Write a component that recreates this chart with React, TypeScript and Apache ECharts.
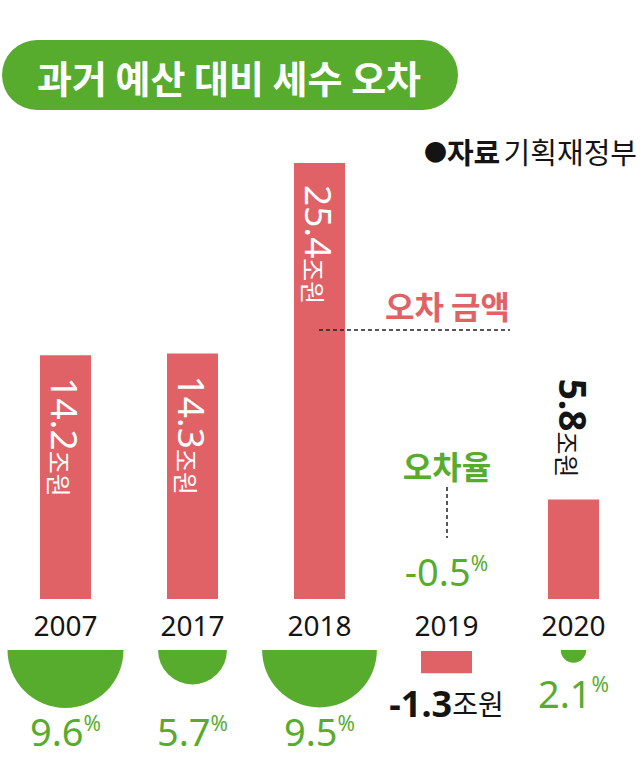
import React, { useEffect, useRef } from 'react';
import * as echarts from 'echarts';

// ---- data ----
const years = ['2007', '2017', '2018', '2019', '2020'];
const errorAmounts = [14.2, 14.3, 25.4, -1.3, 5.8]; // 조원
const errorRates = [9.6, 5.7, 9.5, -0.5, 2.1]; // %
const titleText = '과거 예산 대비 세수 오차';
const sourceMark = '●';
const sourceLabel = '자료';
const sourceName = '기획재정부';
const amountLegend = '오차 금액';
const rateLegend = '오차율';
const unitLabel = '조원';

// ---- styles ----
const RED = '#e06266';
const GREEN = '#57ac2e';
const INK = '#141414';
const NUM_FONT = "'Noto Sans', 'Noto Sans CJK KR', sans-serif";
const KR_FONT = "'Noto Sans CJK KR', 'Noto Sans', sans-serif";

const renderBar = (params: any, api: any) => {
  const i = api.value(0);
  const v = api.value(1);
  const base = api.coord([i, 0]);
  const cx = base[0];
  const by = base[1];
  const h = api.size([0, Math.abs(v)])[1];
  const w = 51;
  const children: any[] = [];
  if (v >= 0) {
    const top = by - h;
    children.push({ type: 'rect', shape: { x: cx - w / 2, y: top, width: w, height: h }, style: { fill: RED } });
    const inside = h > 150;
    const color = inside ? '#ffffff' : INK;
    children.push({
      type: 'text',
      x: cx,
      y: inside ? top + 22 : top - 22,
      rotation: -Math.PI / 2,
      style: {
        text: `{n|${v.toFixed(1)}}{u|${unitLabel}}`,
        align: inside ? 'left' : 'right',
        verticalAlign: 'middle',
        textAlign: inside ? 'left' : 'right',
        textVerticalAlign: 'middle',
        rich: {
          n: { fontFamily: NUM_FONT, fontSize: 37, fontWeight: inside ? 'normal' : 'bold', fill: color },
          u: { fontFamily: KR_FONT, fontSize: 25, fill: color, verticalAlign: 'bottom' },
        },
      },
    });
  } else {
    const top = by + 52;
    children.push({ type: 'rect', shape: { x: cx - w / 2, y: top, width: w, height: h }, style: { fill: RED } });
    children.push({
      type: 'text',
      x: cx,
      y: top + h + 30,
      style: {
        text: `{n|${v.toFixed(1)}}{u|${unitLabel}}`,
        align: 'center',
        verticalAlign: 'middle',
        textAlign: 'center',
        textVerticalAlign: 'middle',
        rich: {
          n: { fontFamily: NUM_FONT, fontSize: 36, fontWeight: 'bold', fill: INK },
          u: { fontFamily: KR_FONT, fontSize: 28, fill: INK },
        },
      },
    });
  }
  return { type: 'group', children };
};

const renderRate = (params: any, api: any) => {
  const i = api.value(0);
  const r = api.value(1);
  const c = api.coord([i, 0]);
  const cx = c[0];
  const cy = c[1];
  const children: any[] = [];
  const label = (y: number) => ({
    type: 'text',
    x: cx,
    y,
    style: {
      text: `{n|${r.toFixed(1)}}{p|%}`,
      align: 'center',
      verticalAlign: 'middle',
      textAlign: 'center',
      textVerticalAlign: 'middle',
      rich: {
        n: { fontFamily: NUM_FONT, fontSize: 38, fill: GREEN },
        p: { fontFamily: NUM_FONT, fontSize: 21, fill: GREEN, verticalAlign: 'top' },
      },
    },
  });
  if (r > 0) {
    const rad = api.size([0, r])[1];
    children.push({
      type: 'sector',
      shape: { cx, cy, r0: 0, r: rad, startAngle: 0, endAngle: Math.PI, clockwise: true },
      style: { fill: GREEN },
    });
    children.push(label(rad >= 20 ? cy + 81 : cy + rad + 30));
  } else {
    children.push(label(cy - 79));
  }
  return { type: 'group', children };
};

export default function App() {
  const ref = useRef<HTMLDivElement>(null);
  useEffect(() => {
    if (!ref.current) return;
    const chart = echarts.init(ref.current, null, { renderer: 'svg' });
    const option: any = {
      animation: false,
      backgroundColor: '#ffffff',
      grid: [
        { left: 2, right: 3, top: 84, bottom: 165 },
        { left: 2, right: 3, top: 650, height: 60.4 },
      ],
      xAxis: [
        {
          type: 'category',
          gridIndex: 0,
          data: years,
          axisLine: { show: false },
          axisTick: { show: false },
          axisLabel: { margin: 12, fontSize: 28, color: INK, fontFamily: NUM_FONT },
        },
        { type: 'category', gridIndex: 1, data: years, show: false },
      ],
      yAxis: [
        { type: 'value', gridIndex: 0, min: 0, max: 30, show: false },
        { type: 'value', gridIndex: 1, min: 0, max: 10, inverse: true, show: false },
      ],
      series: [
        {
          type: 'custom',
          xAxisIndex: 0,
          yAxisIndex: 0,
          clip: false,
          renderItem: renderBar,
          data: errorAmounts.map((v, i) => [i, v]),
        },
        {
          type: 'custom',
          xAxisIndex: 1,
          yAxisIndex: 1,
          clip: false,
          renderItem: renderRate,
          data: errorRates.map((v, i) => [i, v]),
        },
      ],
      graphic: [
        { type: 'rect', shape: { x: 2, y: 40, width: 456, height: 70, r: 35 }, style: { fill: GREEN } },
        {
          type: 'text',
          x: 229,
          y: 76,
          style: {
            text: titleText,
            fill: '#ffffff',
            fontFamily: KR_FONT,
            fontSize: 38,
            fontWeight: 'bold',
            align: 'center',
            verticalAlign: 'middle',
            textAlign: 'center',
            textVerticalAlign: 'middle',
          },
        },
        {
          type: 'text',
          x: 637,
          y: 151,
          style: {
            text: `{m|${sourceMark}}{b|${sourceLabel}} {r|${sourceName}}`,
            align: 'right',
            verticalAlign: 'middle',
            textAlign: 'right',
            textVerticalAlign: 'middle',
            rich: {
              m: { fontFamily: KR_FONT, fontSize: 23, fill: INK },
              b: { fontFamily: KR_FONT, fontSize: 29, fontWeight: 'bold', fill: INK },
              r: { fontFamily: KR_FONT, fontSize: 29, fill: INK },
            },
          },
        },
        {
          type: 'text',
          x: 510,
          y: 305,
          style: {
            text: amountLegend,
            fill: RED,
            fontFamily: KR_FONT,
            fontSize: 32,
            fontWeight: 'bold',
            align: 'right',
            verticalAlign: 'middle',
            textAlign: 'right',
            textVerticalAlign: 'middle',
          },
        },
        {
          type: 'line',
          z: 100,
          shape: { x1: 319, y1: 330, x2: 510, y2: 330 },
          style: { stroke: '#222', lineWidth: 1.5, lineDash: [4, 3] },
        },
        {
          type: 'text',
          x: 447,
          y: 465,
          style: {
            text: rateLegend,
            fill: GREEN,
            fontFamily: KR_FONT,
            fontSize: 32,
            fontWeight: 'bold',
            align: 'center',
            verticalAlign: 'middle',
            textAlign: 'center',
            textVerticalAlign: 'middle',
          },
        },
        {
          type: 'line',
          z: 100,
          shape: { x1: 447, y1: 487, x2: 447, y2: 538 },
          style: { stroke: '#222', lineWidth: 1.5, lineDash: [4, 3] },
        },
      ],
    };
    chart.setOption(option);
    return () => chart.dispose();
  }, []);
  return (
    <div
      ref={ref}
      style={{ position: 'absolute', left: 0, top: 0, width: 640, height: 764 }}
    />
  );
}
